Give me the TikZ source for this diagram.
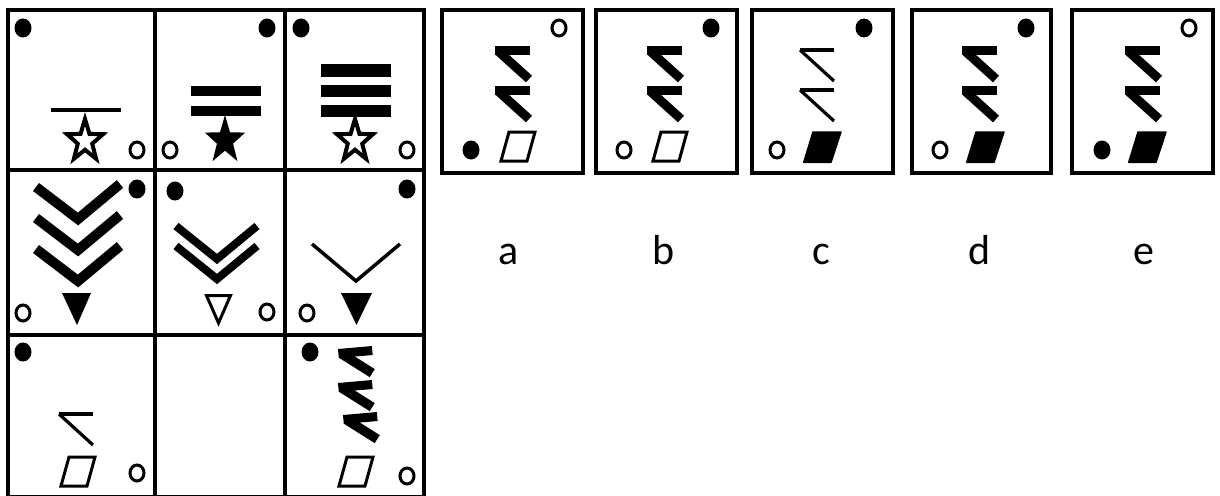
\documentclass[tikz,border=0pt]{standalone}
\usepackage{fontspec}
\setmainfont{Carlito}
\begin{document}
\begin{tikzpicture}[x=1pt,y=-1pt,
  gridline/.style={line width=3.5pt},
  boxline/.style={line width=4pt},
  ring/.style={line width=3pt},
  lab/.style={font=\fontsize{42}{50}\selectfont, anchor=base, inner sep=0pt},
  chevthick/.style={line width=10pt, line join=miter},
  chevmid/.style={line width=8pt, line join=miter},
  thinstroke/.style={line width=3.2pt},
  pics/hook/.style={code={
    \fill (0,0) rectangle (35,9);
    \draw[line width=9pt] (3,5) -- (34,33);}},
  pics/shorthook/.style={code={
    \fill (0,0) rectangle (34,9);
    \draw[line width=9.5pt] (3,5) -- (32,27);}},
  pics/thinhook/.style={code={
    \draw[thinstroke] (0,0) -- (34,0);
    \draw[thinstroke] (0,0) -- (34,31);}},
  pics/opar/.style={code={
    \draw[line width=3pt, line join=miter] (0,0) -- (26,0) -- (34,-29) -- (8,-29) -- cycle;}},
  pics/fpar/.style={code={
    \filldraw[line width=1.5pt, line join=round] (0.75,-0.75) -- (28,-0.75) -- (38,-31) -- (10,-31) -- cycle;}},
  pics/ostar/.style={code={
    \draw[line width=4pt, line join=miter, xscale=0.86]
      (270:22) -- (306:8.8) -- (342:22) -- (18:8.8) -- (54:22) -- (90:8.8)
      -- (126:22) -- (162:8.8) -- (198:22) -- (234:8.8) -- cycle;}},
  pics/fstar/.style={code={
    \fill[xscale=0.83]
      (270:25.5) -- (306:10.2) -- (342:25.5) -- (18:10.2) -- (54:25.5) -- (90:10.2)
      -- (126:25.5) -- (162:10.2) -- (198:25.5) -- (234:10.2) -- cycle;}},
]
\useasboundingbox (0,0) rectangle (1220,495);
\fill[white] (0,0) rectangle (1220,495);

% ---------- matrix grid ----------
\draw[gridline] (8,10) rectangle (424,497);
\draw[gridline] (155,10) -- (155,497);
\draw[gridline] (285,10) -- (285,497);
\draw[gridline] (8,170) -- (424,170);
\draw[gridline] (8,335) -- (424,335);

% ---------- row 1 ----------
% cell 1,1
\fill (23,28) ellipse [x radius=8.5, y radius=9.5];
\draw[line width=4pt] (51,110) -- (121,110);
\pic at (85,141) {ostar};
\draw[ring] (137,150) ellipse [x radius=7, y radius=8];
% cell 1,2
\fill (267,28) ellipse [x radius=8.5, y radius=9.5];
\fill (191,86) rectangle (261,96);
\fill (191,106) rectangle (261,116);
\pic at (225,140.5) {fstar};
\draw[ring] (170,150) ellipse [x radius=7, y radius=8];
% cell 1,3
\fill (301,28) ellipse [x radius=8.5, y radius=9.5];
\fill (321,64.5) rectangle (391,76.5);
\fill (321,84.5) rectangle (391,96.5);
\fill (321,104.5) rectangle (391,116.5);
\pic at (355,141) {ostar};
\draw[ring] (407,150) ellipse [x radius=7, y radius=8];

% ---------- row 2 ----------
% cell 2,1
\draw[chevthick] (36,187) -- (78,219) -- (120,184);
\draw[chevthick] (36,218) -- (78,250) -- (120,215);
\draw[chevthick] (36,249) -- (78,281) -- (120,246);
\fill (62,293) -- (91,293) -- (77,325) -- cycle;
\fill (137,189) ellipse [x radius=8.5, y radius=9.5];
\draw[ring] (23,313) ellipse [x radius=7, y radius=8];
% cell 2,2
\fill (175,191) ellipse [x radius=8.5, y radius=9.5];
\draw[chevmid] (176,226) -- (217,259) -- (257,226);
\draw[chevmid] (176,246) -- (217,279) -- (257,246);
\draw[line width=3pt, line join=miter] (206.5,295.5) -- (230.5,295.5) -- (218.5,323) -- cycle;
\draw[ring] (267,312) ellipse [x radius=7, y radius=8];
% cell 2,3
\fill (407,189) ellipse [x radius=8.5, y radius=9.5];
\draw[line width=3.5pt, line join=miter] (312,244) -- (356,281) -- (400,244);
\fill (341,293) -- (372,293) -- (356.5,325) -- cycle;
\draw[ring] (307,313) ellipse [x radius=7, y radius=8];

% ---------- row 3 ----------
% cell 3,1
\fill (23,352) ellipse [x radius=8.5, y radius=9.5];
\pic at (59,414) {thinhook};
\pic at (61,486) {opar};
\draw[ring] (137,473) ellipse [x radius=7, y radius=8];
% cell 3,3
\fill (310,352) ellipse [x radius=8.5, y radius=9.5];
\pic[rotate=5] at (338,349) {shorthook};
\pic[rotate=5] at (338,383) {shorthook};
\pic[rotate=5] at (343,415) {shorthook};
\pic at (339,486) {opar};
\draw[ring] (407,476) ellipse [x radius=7, y radius=8];

% ---------- answer boxes ----------
% a
\draw[boxline] (442,10) rectangle (583,173);
\draw[ring] (559,28) ellipse [x radius=7, y radius=8];
\pic at (495,46) {hook};
\pic at (495,86) {hook};
\fill (471,150) ellipse [x radius=8.5, y radius=9.5];
\pic at (501,161) {opar};
% b
\draw[boxline] (596,10) rectangle (737,173);
\fill (711,28) ellipse [x radius=8.5, y radius=9.5];
\pic at (647,46) {hook};
\pic at (647,86) {hook};
\draw[ring] (624,150) ellipse [x radius=7, y radius=8];
\pic at (653,161) {opar};
% c
\draw[boxline] (752,10) rectangle (893,173);
\fill (864,28) ellipse [x radius=8.5, y radius=9.5];
\pic at (800,50) {thinhook};
\pic at (800,90) {thinhook};
\draw[ring] (777,150) ellipse [x radius=7, y radius=8];
\pic at (803,163) {fpar};
% d
\draw[boxline] (912,10) rectangle (1051,173);
\fill (1026,28) ellipse [x radius=8.5, y radius=9.5];
\pic at (962,46) {hook};
\pic at (962,86) {hook};
\draw[ring] (940,150) ellipse [x radius=7, y radius=8];
\pic at (966,163) {fpar};
% e
\draw[boxline] (1072,10) rectangle (1213,173);
\draw[ring] (1189,28) ellipse [x radius=7, y radius=8];
\pic at (1125,46) {hook};
\pic at (1125,86) {hook};
\fill (1102,150) ellipse [x radius=8.5, y radius=9.5];
\pic at (1128,163) {fpar};

% ---------- labels ----------
\node[lab] (la) at (509,264) {a};
\node[lab] (lb) at (664,264) {b};
\node[lab] (lc) at (821,264) {c};
\node[lab] (ld) at (980,264) {d};
\node[lab] (le) at (1144,264) {e};
\end{tikzpicture}
\end{document}
